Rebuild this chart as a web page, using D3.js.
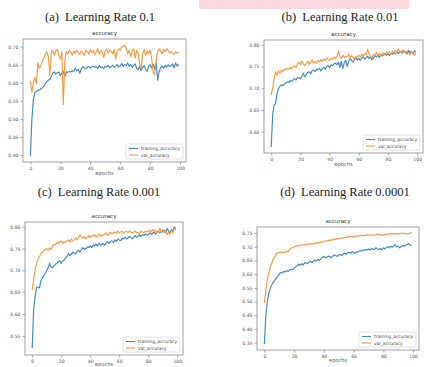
<!DOCTYPE html>
<html>
<head>
<meta charset="utf-8">
<script src="https://cdn.jsdelivr.net/npm/d3@7"></script>
<style>
  html, body { margin: 0; padding: 0; background: #fff; }
  svg { display: block; }
  .ptitle { white-space: pre; }
</style>
</head>
<body>
<div id="chart"></div>
<script>
// Four accuracy curves (train / val) for different learning rates

const epochs = d3.range(0, 100)
const xTicks = [0, 20, 40, 60, 80, 100]
const seriesNames = ['training_accuracy', 'val_accuracy']
const panelTitles = ['(a)  Learning Rate 0.1', '(b)  Learning Rate 0.01', '(c)  Learning Rate 0.001', '(d)  Learning Rate 0.0001']

const aTrain = [
  0.398, 0.500, 0.555, 0.572, 0.577, 0.579, 0.580, 0.583, 0.586, 0.590,
  0.598, 0.603, 0.607, 0.610, 0.618, 0.627, 0.630, 0.624, 0.628, 0.630,
  0.620, 0.626, 0.632, 0.618, 0.630, 0.629, 0.631, 0.630, 0.633, 0.632,
  0.640, 0.633, 0.637, 0.626, 0.638, 0.645, 0.641, 0.639, 0.643, 0.645,
  0.641, 0.644, 0.646, 0.643, 0.645, 0.640, 0.648, 0.642, 0.644, 0.640,
  0.646, 0.643, 0.648, 0.641, 0.645, 0.649, 0.643, 0.646, 0.650, 0.644,
  0.647, 0.653, 0.646, 0.650, 0.648, 0.655, 0.645, 0.651, 0.642, 0.648,
  0.652, 0.640, 0.636, 0.645, 0.633, 0.642, 0.648, 0.638, 0.631, 0.646,
  0.650, 0.641, 0.652, 0.638, 0.655, 0.607, 0.630, 0.642, 0.646, 0.640,
  0.648, 0.643, 0.650, 0.645, 0.647, 0.652, 0.641, 0.655, 0.646, 0.652
]
const aVal = [
  0.605, 0.575, 0.600, 0.615, 0.598, 0.655, 0.640, 0.648, 0.660, 0.668,
  0.680, 0.686, 0.672, 0.622, 0.683, 0.690, 0.676, 0.688, 0.692, 0.675,
  0.665, 0.686, 0.540, 0.662, 0.686, 0.680, 0.690, 0.684, 0.676, 0.688,
  0.682, 0.690, 0.685, 0.678, 0.688, 0.683, 0.676, 0.690, 0.686, 0.680,
  0.692, 0.684, 0.690, 0.678, 0.686, 0.694, 0.680, 0.688, 0.684, 0.670,
  0.688, 0.694, 0.682, 0.690, 0.686, 0.680, 0.692, 0.665, 0.688, 0.694,
  0.690, 0.698, 0.700, 0.704, 0.695, 0.680, 0.690, 0.672, 0.688, 0.694,
  0.668, 0.690, 0.680, 0.652, 0.638, 0.682, 0.692, 0.676, 0.688, 0.680,
  0.690, 0.668, 0.630, 0.622, 0.660, 0.686, 0.694, 0.688, 0.680, 0.692,
  0.686, 0.694, 0.690, 0.682, 0.686, 0.680, 0.678, 0.686, 0.682, 0.684
]
const bTrain = [
  0.565, 0.640, 0.662, 0.665, 0.688, 0.700, 0.705, 0.708, 0.706, 0.710,
  0.712, 0.715, 0.713, 0.718, 0.716, 0.720, 0.722, 0.719, 0.725, 0.724,
  0.722, 0.728, 0.735, 0.726, 0.732, 0.736, 0.738, 0.733, 0.740, 0.742,
  0.738, 0.744, 0.742, 0.746, 0.740, 0.745, 0.748, 0.744, 0.750, 0.752,
  0.748, 0.754, 0.752, 0.756, 0.758, 0.754, 0.760, 0.748, 0.762, 0.745,
  0.758, 0.765, 0.750, 0.762, 0.768, 0.764, 0.760, 0.766, 0.770, 0.765,
  0.768, 0.764, 0.770, 0.772, 0.767, 0.770, 0.774, 0.768, 0.772, 0.765,
  0.770, 0.775, 0.772, 0.776, 0.771, 0.778, 0.774, 0.777, 0.780, 0.776,
  0.779, 0.775, 0.781, 0.778, 0.782, 0.779, 0.784, 0.780, 0.783, 0.785,
  0.781, 0.786, 0.783, 0.779, 0.787, 0.782, 0.785, 0.779, 0.786, 0.784
]
const bVal = [
  0.685, 0.700, 0.722, 0.738, 0.730, 0.740, 0.735, 0.742, 0.738, 0.744,
  0.742, 0.746, 0.744, 0.748, 0.745, 0.750, 0.752, 0.748, 0.756, 0.760,
  0.754, 0.762, 0.756, 0.752, 0.758, 0.762, 0.755, 0.760, 0.765, 0.758,
  0.762, 0.758, 0.764, 0.760, 0.766, 0.762, 0.768, 0.764, 0.770, 0.766,
  0.764, 0.770, 0.766, 0.772, 0.768, 0.774, 0.786, 0.772, 0.768, 0.776,
  0.770, 0.774, 0.772, 0.778, 0.770, 0.775, 0.772, 0.768, 0.774, 0.770,
  0.776, 0.772, 0.778, 0.774, 0.780, 0.776, 0.790, 0.778, 0.774, 0.770,
  0.778, 0.775, 0.782, 0.776, 0.780, 0.774, 0.782, 0.779, 0.776, 0.783,
  0.780, 0.784, 0.778, 0.785, 0.781, 0.787, 0.783, 0.790, 0.786, 0.782,
  0.788, 0.784, 0.780, 0.786, 0.782, 0.777, 0.784, 0.780, 0.776, 0.782
]
const cTrain = [
  0.522, 0.610, 0.640, 0.660, 0.662, 0.660, 0.676, 0.682, 0.688, 0.692,
  0.700, 0.706, 0.716, 0.708, 0.706, 0.710, 0.714, 0.716, 0.720, 0.722,
  0.716, 0.722, 0.724, 0.728, 0.732, 0.738, 0.734, 0.738, 0.742, 0.740,
  0.738, 0.744, 0.746, 0.742, 0.748, 0.752, 0.748, 0.750, 0.754, 0.752,
  0.756, 0.752, 0.758, 0.756, 0.760, 0.756, 0.762, 0.758, 0.760, 0.762,
  0.758, 0.762, 0.766, 0.762, 0.766, 0.768, 0.764, 0.770, 0.766, 0.772,
  0.770, 0.768, 0.774, 0.772, 0.776, 0.772, 0.774, 0.778, 0.776, 0.772,
  0.776, 0.780, 0.776, 0.778, 0.782, 0.778, 0.782, 0.780, 0.784, 0.781,
  0.782, 0.786, 0.783, 0.785, 0.788, 0.784, 0.787, 0.790, 0.786, 0.789,
  0.788, 0.792, 0.788, 0.796, 0.790, 0.786, 0.794, 0.790, 0.800, 0.795
]
const cVal = [
  0.655, 0.678, 0.700, 0.716, 0.726, 0.732, 0.738, 0.742, 0.745, 0.748,
  0.750, 0.746, 0.752, 0.748, 0.756, 0.760, 0.758, 0.764, 0.762, 0.766,
  0.768, 0.762, 0.766, 0.764, 0.768, 0.770, 0.766, 0.772, 0.768, 0.770,
  0.774, 0.770, 0.776, 0.782, 0.776, 0.774, 0.778, 0.772, 0.776, 0.780,
  0.776, 0.780, 0.778, 0.782, 0.776, 0.780, 0.784, 0.778, 0.782, 0.780,
  0.784, 0.786, 0.780, 0.784, 0.788, 0.784, 0.786, 0.788, 0.786, 0.790,
  0.786, 0.788, 0.790, 0.786, 0.788, 0.790, 0.787, 0.790, 0.788, 0.786,
  0.788, 0.790, 0.786, 0.788, 0.784, 0.790, 0.788, 0.786, 0.790, 0.788,
  0.790, 0.792, 0.788, 0.794, 0.790, 0.792, 0.786, 0.790, 0.796, 0.788,
  0.794, 0.786, 0.790, 0.782, 0.788, 0.784, 0.792, 0.786, 0.798, 0.792
]
const dTrain = [
  0.345, 0.450, 0.500, 0.530, 0.548, 0.560, 0.570, 0.578, 0.585, 0.592,
  0.600, 0.606, 0.604, 0.610, 0.608, 0.612, 0.610, 0.615, 0.618, 0.616,
  0.622, 0.626, 0.630, 0.636, 0.632, 0.638, 0.634, 0.640, 0.642, 0.638,
  0.644, 0.646, 0.642, 0.648, 0.652, 0.648, 0.654, 0.650, 0.656, 0.662,
  0.664, 0.660, 0.662, 0.666, 0.664, 0.660, 0.666, 0.670, 0.668, 0.664,
  0.670, 0.672, 0.668, 0.674, 0.676, 0.672, 0.678, 0.680, 0.676, 0.682,
  0.680, 0.676, 0.682, 0.680, 0.686, 0.684, 0.688, 0.686, 0.690, 0.688,
  0.692, 0.688, 0.694, 0.690, 0.692, 0.696, 0.692, 0.690, 0.694, 0.688,
  0.696, 0.692, 0.698, 0.700, 0.696, 0.702, 0.698, 0.704, 0.708, 0.700,
  0.702, 0.696, 0.700, 0.704, 0.702, 0.706, 0.708, 0.712, 0.706, 0.704
]
const dVal = [
  0.495, 0.540, 0.580, 0.605, 0.625, 0.640, 0.654, 0.664, 0.672, 0.678,
  0.680, 0.678, 0.682, 0.678, 0.680, 0.684, 0.682, 0.690, 0.694, 0.698,
  0.700, 0.702, 0.704, 0.702, 0.706, 0.704, 0.708, 0.706, 0.708, 0.710,
  0.708, 0.710, 0.712, 0.710, 0.714, 0.712, 0.716, 0.714, 0.718, 0.716,
  0.720, 0.722, 0.720, 0.724, 0.722, 0.726, 0.724, 0.728, 0.726, 0.730,
  0.728, 0.732, 0.730, 0.734, 0.732, 0.736, 0.734, 0.736, 0.738, 0.736,
  0.738, 0.736, 0.740, 0.738, 0.740, 0.742, 0.740, 0.742, 0.740, 0.744,
  0.742, 0.744, 0.742, 0.744, 0.742, 0.744, 0.746, 0.744, 0.742, 0.744,
  0.742, 0.746, 0.744, 0.746, 0.748, 0.746, 0.748, 0.746, 0.748, 0.746,
  0.748, 0.746, 0.748, 0.750, 0.748, 0.748, 0.746, 0.748, 0.750, 0.752
]

const aTicks = [0.40, 0.45, 0.50, 0.55, 0.60, 0.65, 0.70]
const bTicks = [0.60, 0.65, 0.70, 0.75, 0.80]
const cTicks = [0.55, 0.60, 0.65, 0.70, 0.75, 0.80]
const dTicks = [0.35, 0.40, 0.45, 0.50, 0.55, 0.60, 0.65, 0.70, 0.75]

const W = 424, H = 367
const colors = ['#3d88c2', '#f7983f']

// frame boxes and y limits per panel (layout)
const panels = [
  { title: panelTitles[0], tx: 100, ty: 21, box: [23, 39, 186, 162], ylim: [0.381, 0.721], yticks: aTicks, train: aTrain, val: aVal, xlab: 13 },
  { title: panelTitles[1], tx: 340, ty: 21, box: [264, 40, 423, 153], ylim: [0.551, 0.811], yticks: bTicks, train: bTrain, val: bVal, xlab: 13 },
  { title: panelTitles[2], tx: 99, ty: 196, box: [25, 222, 183, 355], ylim: [0.506, 0.811], yticks: cTicks, train: cTrain, val: cVal, xlab: 10.5 },
  { title: panelTitles[3], tx: 345, ty: 196, box: [257, 227, 419, 350], ylim: [0.323, 0.772], yticks: dTicks, train: dTrain, val: dVal, xlab: 12 }
]

const svg = d3.select('#chart').append('svg')
  .attr('width', W)
  .attr('height', H)
  .attr('viewBox', `0 0 ${W} ${H}`)

// pink strip at the top
svg.append('rect')
  .attr('x', 199).attr('y', 0)
  .attr('width', 210).attr('height', 9)
  .attr('fill', '#fbd9df')

panels.forEach(p => {
  const [x0, y0, x1, y1] = p.box
  const x = d3.scaleLinear().domain([-4.95, 103.95]).range([x0, x1])
  const y = d3.scaleLinear().domain(p.ylim).range([y1, y0])

  svg.append('text')
    .attr('class', 'ptitle')
    .attr('x', p.tx).attr('y', p.ty)
    .attr('text-anchor', 'middle')
    .attr('font-family', 'Liberation Serif, Times New Roman, serif')
    .attr('font-size', '12.5px')
    .attr('fill', '#1a1a1a')
    .text(p.title)

  const g = svg.append('g')

  g.append('text')
    .attr('x', (x0 + x1) / 2).attr('y', y0 - 4)
    .attr('text-anchor', 'middle')
    .attr('font-family', 'DejaVu Sans, sans-serif')
    .attr('font-size', '5.5px')
    .attr('fill', '#333')
    .text('accuracy')

  // axes
  const xAxis = g.append('g')
    .attr('transform', `translate(0,${y1})`)
    .call(d3.axisBottom(x).tickValues(xTicks).tickSize(2.5).tickPadding(2).tickFormat(d3.format('d')))
  const yAxis = g.append('g')
    .attr('transform', `translate(${x0},0)`)
    .call(d3.axisLeft(y).tickValues(p.yticks).tickSize(2.5).tickPadding(2).tickFormat(d3.format('.2f')))

  ;[xAxis, yAxis].forEach(ax => {
    ax.select('.domain').remove()
    ax.selectAll('line').attr('stroke', '#666').attr('stroke-width', 0.6)
    ax.selectAll('text')
      .attr('font-family', 'DejaVu Sans, sans-serif')
      .attr('font-size', '4.6px')
      .attr('fill', '#555')
  })

  g.append('text')
    .attr('x', (x0 + x1) / 2).attr('y', y1 + p.xlab)
    .attr('text-anchor', 'middle')
    .attr('font-family', 'DejaVu Sans, sans-serif')
    .attr('font-size', '5.2px')
    .attr('fill', '#555')
    .text('epochs')

  // series
  const line = d3.line()
    .x((d, i) => x(epochs[i]))
    .y(d => y(d))

  ;[p.train, p.val].forEach((s, k) => {
    g.append('path')
      .datum(s)
      .attr('d', line)
      .attr('fill', 'none')
      .attr('stroke', colors[k])
      .attr('stroke-width', 1.15)
      .attr('stroke-linejoin', 'round')
  })

  // frame
  g.append('rect')
    .attr('x', x0).attr('y', y0)
    .attr('width', x1 - x0).attr('height', y1 - y0)
    .attr('fill', 'none')
    .attr('stroke', '#888')
    .attr('stroke-width', 0.8)

  // legend, bottom right
  const lw = 57, lh = 15
  const lg = g.append('g').attr('transform', `translate(${x1 - lw - 3},${y1 - lh - 3})`)
  lg.append('rect')
    .attr('width', lw).attr('height', lh)
    .attr('rx', 1.5)
    .attr('fill', '#fff')
    .attr('stroke', '#ccc')
    .attr('stroke-width', 0.6)
  seriesNames.forEach((name, k) => {
    const ly = 4.5 + k * 6.5
    lg.append('line')
      .attr('x1', 3).attr('x2', 12)
      .attr('y1', ly).attr('y2', ly)
      .attr('stroke', colors[k])
      .attr('stroke-width', 1.1)
    lg.append('text')
      .attr('x', 15).attr('y', ly + 1.6)
      .attr('font-family', 'DejaVu Sans, sans-serif')
      .attr('font-size', '4.4px')
      .attr('fill', '#444')
      .text(name)
  })
})
</script>
</body>
</html>
